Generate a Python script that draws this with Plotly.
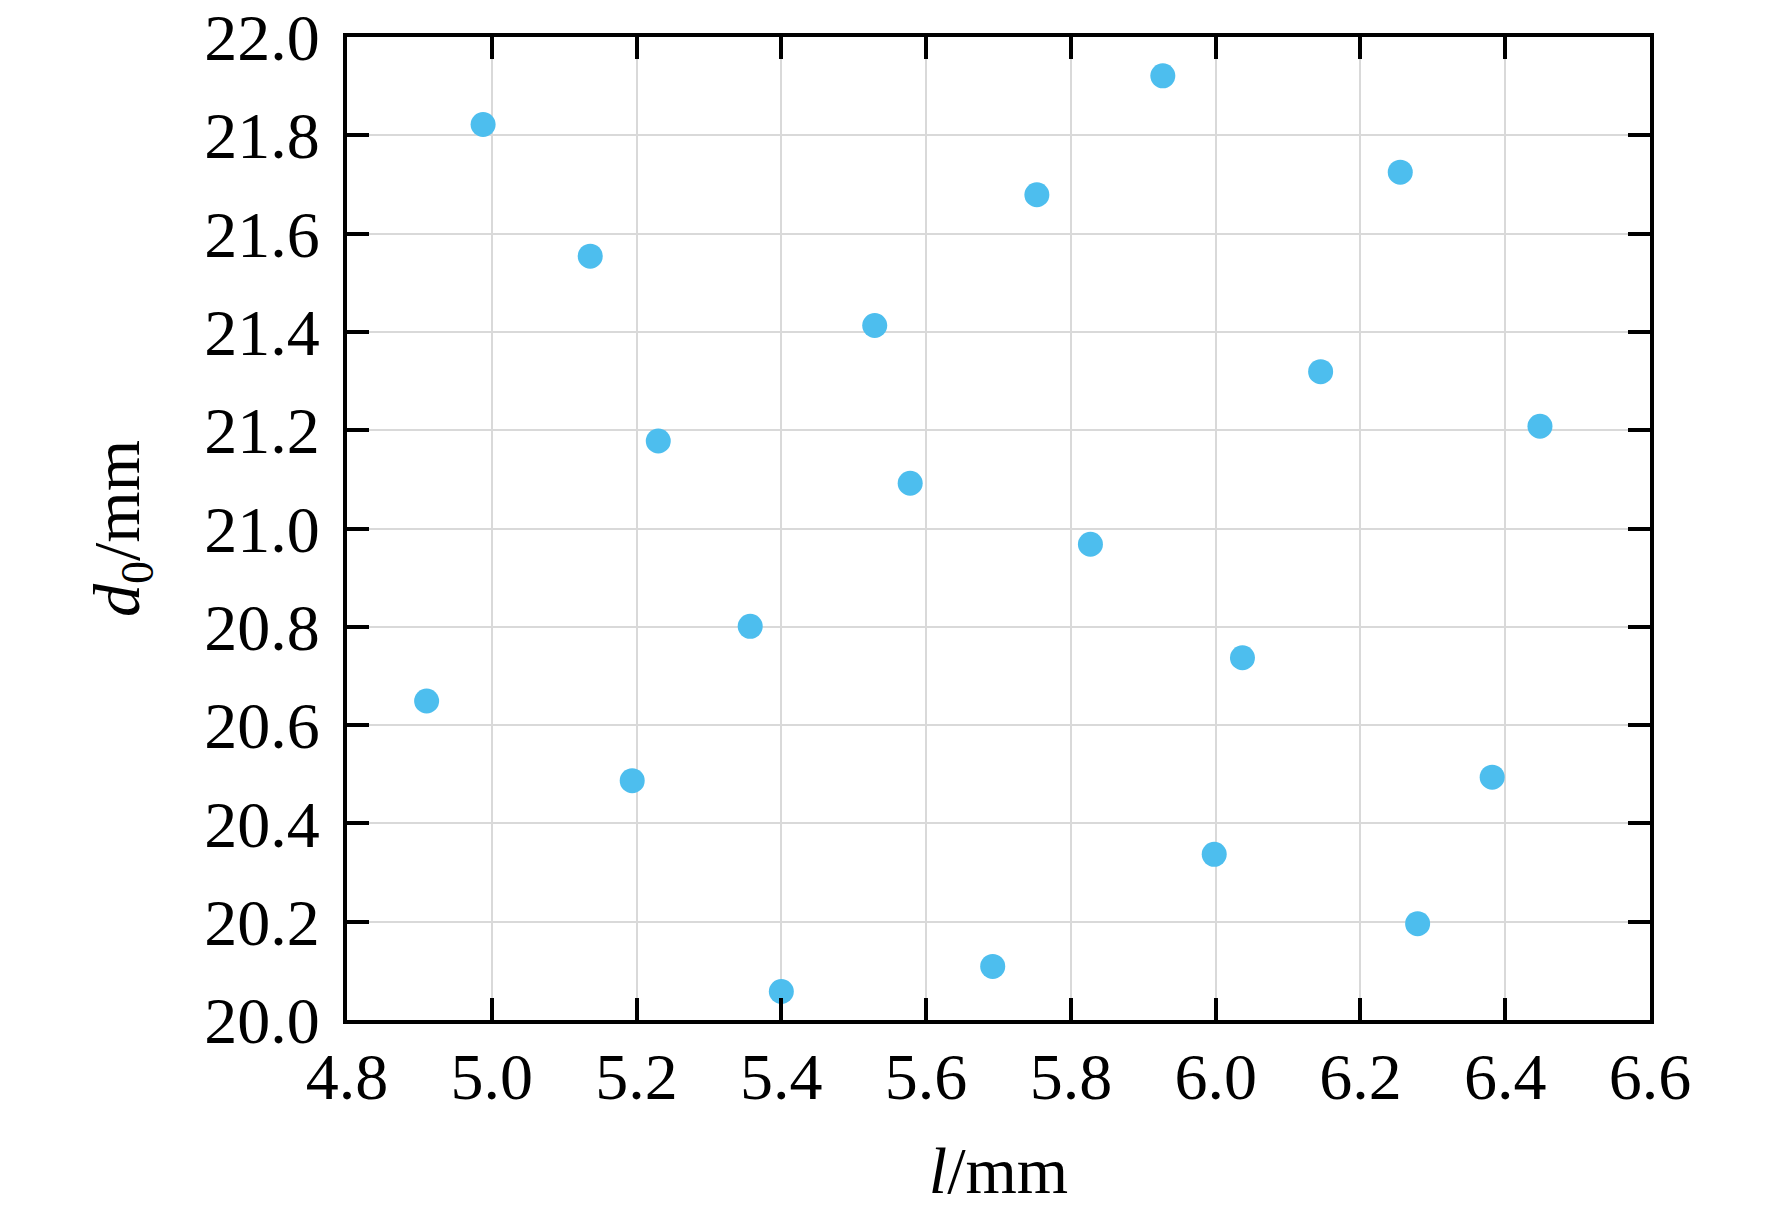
import plotly.graph_objects as go

# l (mm) and d0 (mm)
l_mm = [4.910, 4.988, 5.136, 5.194, 5.230, 5.357, 5.400, 5.529, 5.578, 5.692,
        5.753, 5.827, 5.927, 5.998, 6.037, 6.145, 6.255, 6.279, 6.382, 6.448]
d0_mm = [20.649, 21.822, 21.554, 20.487, 21.178, 20.801, 20.058, 21.413, 21.092, 20.109,
         21.679, 20.968, 21.921, 20.337, 20.737, 21.319, 21.725, 20.196, 20.494, 21.208]

x_ticks = [4.8, 5.0, 5.2, 5.4, 5.6, 5.8, 6.0, 6.2, 6.4, 6.6]
y_ticks = [20.0, 20.2, 20.4, 20.6, 20.8, 21.0, 21.2, 21.4, 21.6, 21.8, 22.0]

font_serif = "Liberation Serif"

fig = go.Figure()
fig.add_trace(go.Scatter(x=l_mm, y=d0_mm, mode="markers",
                         marker=dict(size=25, color="#4DBEEE", line=dict(width=0)),
                         showlegend=False))

axis_common = dict(
    showline=True, linecolor="black", linewidth=4, mirror="allticks",
    ticks="inside", ticklen=22, tickwidth=4, tickcolor="black",
    showgrid=True, gridcolor="#d9d9d9", gridwidth=1.5,
    zeroline=False, ticklabeloverflow="allow", automargin=False,
    tickfont=dict(family=font_serif, size=66, color="black"),
)

fig.update_xaxes(range=[4.8, 6.6], tickvals=x_ticks,
                 ticktext=["%.1f" % v for v in x_ticks],
                 ticklabelstandoff=-4,
                 title=dict(text="<i>l</i>/mm", font=dict(family=font_serif, size=66, color="black"),
                            standoff=36),
                 **axis_common)
fig.update_yaxes(range=[20.0, 22.0], tickvals=y_ticks,
                 ticktext=["%.1f" % v for v in y_ticks],
                 ticklabelstandoff=10,
                 title=dict(text="<i>d</i><sub>0</sub>/mm", font=dict(family=font_serif, size=66, color="black"),
                            standoff=44),
                 **axis_common)

fig.update_layout(width=1772, height=1206,
                  margin=dict(l=339, r=130, t=29, b=194),
                  plot_bgcolor="white", paper_bgcolor="white")

fig.write_html("out.html")
